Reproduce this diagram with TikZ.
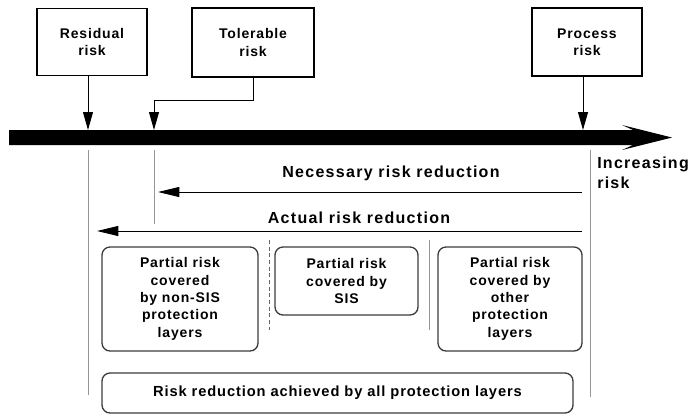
\documentclass[tikz,border=0pt]{standalone}
\usepackage{fontspec}
\setmainfont[LetterSpace=6]{Liberation Sans}
\newfontfamily\labelfont[LetterSpace=8]{Liberation Sans}
\usetikzlibrary{arrows.meta}
\definecolor{dropgray}{RGB}{150,150,150}
\definecolor{layeredge}{RGB}{60,60,60}

\begin{document}
\begin{tikzpicture}[x=0.75pt, y=-0.75pt,
    every node/.style={font=\fontsize{10.5}{13}\selectfont\bfseries},
    lbl/.style={font=\labelfont\fontsize{12}{14.5}\selectfont\bfseries},
    riskbox/.style={draw, line width=0.8pt, align=center, inner sep=0pt},
    layerbox/.style={draw=layeredge, line width=1pt, rounded corners=6pt,
                     align=center, inner sep=0pt},
    arr/.style={-{Triangle[length=13.5pt, width=7.5pt]}, line width=0.75pt},
    harr/.style={-{Triangle[length=16pt, width=7.5pt]}, line width=0.75pt},
    drop/.style={dropgray, line width=0.75pt}
  ]
    \useasboundingbox (0,0) rectangle (692,415);

    % risk levels
    \node[riskbox, minimum width=82.5pt, minimum height=50.25pt] (res) at (92,42) {Residual\\risk};
    \node[riskbox, minimum width=91.5pt, minimum height=51.75pt] (tol) at (253,42.5) {Tolerable\\risk};
    \node[riskbox, minimum width=82.5pt, minimum height=51pt] (proc) at (587,42) {Process\\risk};

    % risk axis
    \fill (9,130) -- (633,130) -- (622,125) -- (672,137.5) -- (622,150)
      -- (633,145) -- (9,145) -- cycle;
    \coordinate (resmark) at (88,130);
    \coordinate (tolmark) at (154,130);
    \coordinate (procmark) at (583,130);
    \node[lbl, anchor=north west, align=left, inner sep=0pt] (incr) at (597,157) {Increasing\\risk};

    \draw[arr] (res.south -| resmark) -- (resmark);
    \draw[arr] (tol.south) -- ++(0,23) -| (tolmark);
    \draw[arr] (proc.south -| procmark) -- (procmark);

    % drop lines
    \foreach \x/\y in {88/395, 154/224, 590/397}
      \draw[drop] (\x,150) -- (\x,\y);

    % reductions
    \node[lbl] (necl) at (391,173) {Necessary risk reduction};
    \coordinate (necR) at (582,192);
    \coordinate (necL) at (158,192);
    \draw[harr] (necR) -- (necL);
    \node[lbl] (actl) at (359,218) {Actual risk reduction};
    \coordinate (actR) at (582,231);
    \coordinate (actL) at (97,231);
    \draw[harr] (actR) -- (actL);

    % protection layers
    \node[layerbox, minimum width=117pt, minimum height=78pt] (nonsis) at (180,299)
      {Partial risk\\covered\\by non-SIS\\protection\\layers};
    \node[layerbox, minimum width=107.25pt, minimum height=51pt] (sis) at (346.5,281)
      {Partial risk\\covered by\\SIS};
    \node[layerbox, minimum width=108pt, minimum height=78pt] (other) at (510,299)
      {Partial risk\\covered by\\other\\protection\\layers};
    \draw[black!60, line width=0.75pt, dash pattern=on 3pt off 2pt] (269,240) -- (269,330);
    \draw[drop] (429,240) -- (429,330);
    \node[layerbox, minimum width=353.25pt, minimum height=30pt, font=\fontsize{11}{13}\selectfont\bfseries] (all) at (337.5,393)
      {Risk reduction achieved by all protection layers};
  \end{tikzpicture}
\end{document}
